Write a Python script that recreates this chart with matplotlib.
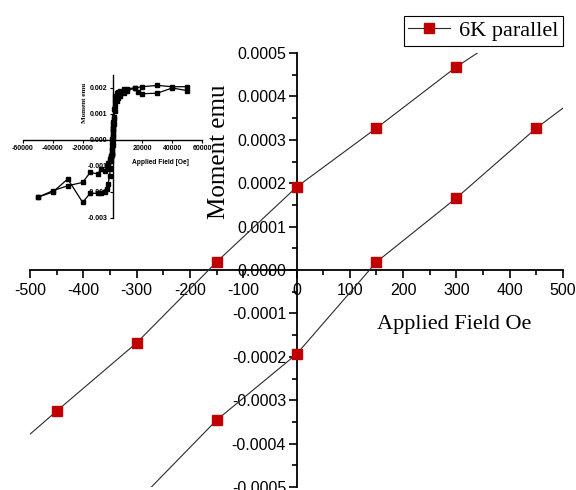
import matplotlib
matplotlib.use("Agg")
import matplotlib.pyplot as plt
from matplotlib.ticker import MultipleLocator, FuncFormatter
from matplotlib.lines import Line2D

plt.rcParams['axes.unicode_minus'] = False
plt.rcParams['font.family'] = ['Liberation Sans', 'DejaVu Sans']

# ---- main plot data (6K parallel, low-field part of the loop) ----
desc_field = [450, 300, 150, 0, -150, -300, -450, -600]
desc_moment = [0.00059, 0.000468, 0.000327, 0.000191, 0.0000184, -0.000168, -0.000325, -0.000485]
asc_field = [-300, -150, 0, 150, 300, 450, 600]
asc_moment = [-0.000535, -0.000346, -0.000194, 0.0000184, 0.000166, 0.000327, 0.000465]
series_label = '6K parallel'
x_label = 'Applied Field Oe'
y_label = 'Moment emu'

# ---- inset data (full loop) ----
in_desc_field = [50000, 40000, 30000, 20000, 17000, 15000, 10000, 7500, 5000, 4000, 3000, 2000,
                 1500, 1000, 750, 600, 450, 300, 150, 0, -150, -300, -450, -600, -750, -1000,
                 -1500, -2000, -3000, -4000, -5000, -7500, -10000, -15000, -20000, -30000,
                 -40000, -50000]
in_desc_moment = [0.0019, 0.002, 0.0018, 0.00178, 0.00185, 0.002, 0.00198, 0.00195, 0.0019,
                  0.00185, 0.0018, 0.0017, 0.0015, 0.0012, 0.0009, 0.0007, 0.00059, 0.00047,
                  0.00033, 0.00019, 0.00002, -0.00017, -0.00033, -0.00049, -0.00062, -0.0008,
                  -0.0011, -0.0014, -0.0017, -0.0019, -0.002, -0.00205, -0.00205, -0.00205,
                  -0.0024, -0.0015, -0.002, -0.0022]
in_asc_field = [-50000, -40000, -30000, -20000, -15000, -10000, -7500, -5000, -4000, -3000,
                -2000, -1500, -1000, -750, -600, -450, -300, -150, 0, 150, 300, 450, 600, 750,
                1000, 1500, 2000, 3000, 4000, 5000, 7500, 10000, 15000, 20000, 30000, 40000,
                50000]
in_asc_moment = [-0.0022, -0.00195, -0.00176, -0.00163, -0.00125, -0.0013, -0.0011, -0.0012,
                 -0.001, -0.0009, -0.00082, -0.00072, -0.00065, -0.0006, -0.00057, -0.00055,
                 -0.000535, -0.000346, -0.000194, 0.000018, 0.000166, 0.000327, 0.000465,
                 0.0006, 0.0008, 0.0011, 0.0013, 0.0015, 0.0016, 0.0017, 0.0018, 0.0019, 0.002,
                 0.00205, 0.0021, 0.00205, 0.00205]
in_x_label = 'Applied Field [Oe]'
in_y_label = 'Moment emu'

RED = '#C00000'
LINE = '#2a2a2a'

W, H = 576, 490
fig = plt.figure(figsize=(W / 100, H / 100), dpi=100)

# ---------------- main axes ----------------
ax = fig.add_axes([30 / W, 3 / H, 533 / W, 434 / H])
ax.set_facecolor('none')
ax.set_xlim(-500, 500)
ax.set_ylim(-0.0005, 0.0005)
for s in ['top', 'right']:
    ax.spines[s].set_visible(False)
ax.spines['left'].set_position(('data', 0))
ax.spines['bottom'].set_position(('data', 0))
for s in ['left', 'bottom']:
    ax.spines[s].set_linewidth(1.3)

ax.xaxis.set_major_locator(MultipleLocator(100))
ax.xaxis.set_minor_locator(MultipleLocator(50))
ax.yaxis.set_major_locator(MultipleLocator(0.0001))
ax.yaxis.set_minor_locator(MultipleLocator(0.00005))
ax.xaxis.set_major_formatter(FuncFormatter(lambda v, p: '%d' % round(v)))
ax.yaxis.set_major_formatter(FuncFormatter(lambda v, p: '%.4f' % (round(v * 1e4) / 1e4 + 0.0)))
ax.tick_params(axis='both', which='major', direction='out', length=6, width=1.2,
               labelsize=11.5, colors='black')
ax.tick_params(axis='both', which='minor', direction='out', length=3.5, width=1.2)
ax.tick_params(axis='x', which='major', pad=3)
ax.tick_params(axis='y', which='major', pad=1.5)

ax.plot(desc_field, desc_moment, '-s', color=LINE, lw=0.8, ms=7,
        mfc=RED, mec=RED, zorder=3)
ax.plot(asc_field, asc_moment, '-s', color=LINE, lw=0.8, ms=7,
        mfc=RED, mec=RED, zorder=3)

fig.text(219 / W, 1 - 152 / H, y_label, rotation=90, ha='center', va='center',
         fontsize=18, family='Liberation Serif')
fig.text(454 / W, 1 - 324 / H, x_label, ha='center', va='center',
         fontsize=16, family='Liberation Serif')

handle = Line2D([], [], color=LINE, lw=0.8, marker='s', ms=7, mfc=RED, mec=RED)
leg = fig.legend([handle], [series_label], loc='center',
                 bbox_to_anchor=(483.5 / W, 1 - 31 / H),
                 prop={'family': 'Liberation Serif', 'size': 16},
                 frameon=True, fancybox=False, edgecolor='black', framealpha=1,
                 borderpad=0.2, handlelength=1.9, handletextpad=0.4, borderaxespad=0)
leg.get_frame().set_linewidth(0.8)

# ---------------- inset ----------------
ax2 = fig.add_axes([23 / W, 1 - 218 / H, 179 / W, 143 / H])
ax2.set_facecolor('none')
ax2.set_xlim(-60000, 60000)
ax2.set_ylim(-0.003, 0.0025)
for s in ['top', 'right']:
    ax2.spines[s].set_visible(False)
ax2.spines['left'].set_position(('data', 0))
ax2.spines['bottom'].set_position(('data', 0))
for s in ['left', 'bottom']:
    ax2.spines[s].set_linewidth(1.0)
ax2.xaxis.set_major_locator(MultipleLocator(20000))
ax2.yaxis.set_major_locator(MultipleLocator(0.001))
ax2.xaxis.set_major_formatter(FuncFormatter(lambda v, p: '%d' % round(v)))
ax2.yaxis.set_major_formatter(FuncFormatter(lambda v, p: '%.3f' % (round(v * 1e3) / 1e3 + 0.0)))
ax2.tick_params(axis='both', which='major', direction='out', length=2.5, width=0.8,
                labelsize=5, pad=1)
for lab in ax2.get_xticklabels() + ax2.get_yticklabels():
    lab.set_fontweight('bold')

ax2.plot(in_desc_field, in_desc_moment, '-s', color='black', lw=0.9, ms=3, zorder=3)
ax2.plot(in_asc_field, in_asc_moment, '-s', color='black', lw=0.9, ms=3, zorder=3)

fig.text(85 / W, 1 - 103 / H, in_y_label, rotation=90, ha='center', va='center',
         fontsize=5, family='Liberation Serif', fontweight='bold')
fig.text(160 / W, 1 - 163 / H, in_x_label, ha='center', va='center',
         fontsize=4.8, fontweight='bold')

fig.savefig('out.png', dpi=100)
